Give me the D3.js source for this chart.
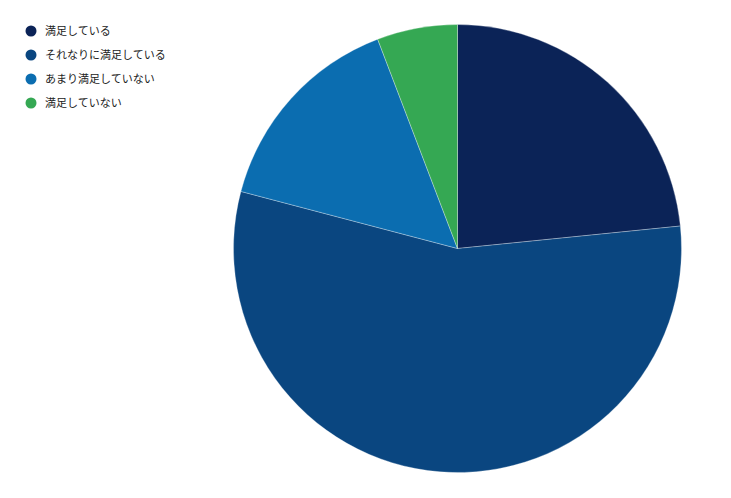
<!DOCTYPE html>
<html>
<head>
<meta charset="utf-8">
<script src="https://cdn.jsdelivr.net/npm/d3@7"></script>
<style>
  body { margin: 0; background: #fff; }
</style>
</head>
<body>
<div id="chart"></div>
<script>
var categories = ["満足している", "それなりに満足している", "あまり満足していない", "満足していない"];
var values = [23.4, 55.7, 15.1, 5.8];
var colors = ["#0b2357", "#0a4680", "#0b6db0", "#35a853"];

(function() {
  var width = 731,
      height = 498;

  var svg = d3.select("#chart")
    .append("svg")
    .attr("width", width)
    .attr("height", height)
    .style("font-family", "'Noto Sans CJK JP', 'Noto Sans', sans-serif");

  var data = categories.map(function(c, i) {
    return {label: c, value: values[i], color: colors[i]};
  });

  var pie = d3.pie()
    .sort(null)
    .value(function(d) { return d.value; });

  var arc = d3.arc()
    .innerRadius(0)
    .outerRadius(224);

  var g = svg.append("g")
    .attr("transform", "translate(457.5,248.5)");

  g.selectAll(".slice")
    .data(pie(data))
    .enter().append("path")
    .attr("class", "slice")
    .attr("d", arc)
    .attr("fill", function(d) { return d.data.color; })
    .attr("stroke", "#ffffff")
    .attr("stroke-width", 0.5)
    .attr("stroke-opacity", 0.6);

  var legend = svg.append("g")
    .attr("transform", "translate(31,31)");

  var item = legend.selectAll(".item")
    .data(data)
    .enter().append("g")
    .attr("class", "item")
    .attr("transform", function(d, i) { return "translate(0," + i * 24 + ")"; });

  item.append("circle")
    .attr("r", 5.5)
    .attr("fill", function(d) { return d.color; });

  item.append("text")
    .attr("x", 14)
    .attr("dy", "0.35em")
    .attr("font-size", 11)
    .attr("fill", "#222")
    .text(function(d) { return d.label; });
})();
</script>
</body>
</html>
